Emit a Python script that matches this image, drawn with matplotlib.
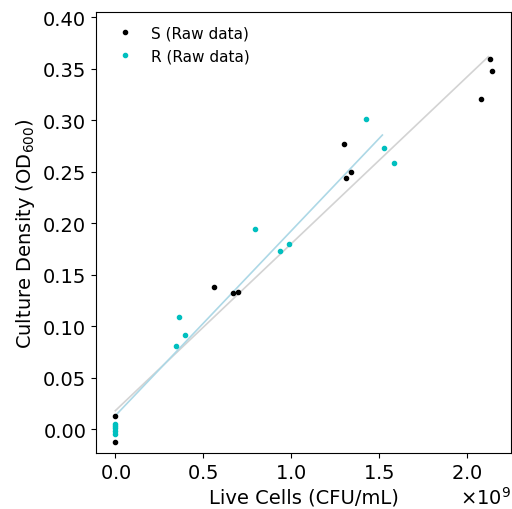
import numpy as np
import matplotlib
matplotlib.use('Agg')
import matplotlib.pyplot as plt

# live cells (CFU/mL) vs OD600
s_cells = [0.0, 0.0, 0.56e9, 0.672e9, 0.70e9, 1.30e9, 1.341e9, 1.313e9, 2.133e9, 2.144e9, 2.081e9]
s_od = [0.0123, -0.0129, 0.138, 0.132, 0.1327, 0.277, 0.250, 0.2437, 0.359, 0.348, 0.320]

r_cells = [0.0, 0.0, 0.0, 0.0, 0.0, 0.347e9, 0.364e9, 0.398e9, 0.797e9, 0.937e9, 0.989e9,
           1.427e9, 1.527e9, 1.588e9]
r_od = [0.005, 0.003, 0.001, -0.002, -0.005, 0.0803, 0.109, 0.0913, 0.194, 0.1728, 0.1796,
        0.301, 0.273, 0.2586]

# linear fits (intercept, slope per cell) and the x span they were drawn over
s_fit = (0.0178, 0.1619e-9)
s_fit_x = [0.0, 2.123e9]
r_fit = (0.0129, 0.1793e-9)
r_fit_x = [0.0, 1.52e9]

plt.close('all')
fig = plt.figure(figsize=(5.12, 5.10), dpi=100)
ax = fig.add_axes([0.1875, 0.1098, 0.8105, 0.8647])

xs = np.array(s_fit_x)
ax.plot(xs, s_fit[0] + s_fit[1]*xs, color='lightgray', lw=1.2, zorder=1)
xr = np.array(r_fit_x)
ax.plot(xr, r_fit[0] + r_fit[1]*xr, color='lightblue', lw=1.2, zorder=1)

ax.plot(s_cells, s_od, 'k.', ms=6, label='S (Raw data)', zorder=3)
ax.plot(r_cells, r_od, 'c.', ms=6, label='R (Raw data)', zorder=2)

ax.set_xlim(-0.11e9, 2.252e9)
ax.set_ylim(-0.0233, 0.4049)
ax.set_xticks(np.arange(0, 2.01e9, 0.5e9))
ax.set_yticks(np.arange(0, 0.401, 0.05))
ax.ticklabel_format(axis='x', style='sci', scilimits=(0, 0), useMathText=True)
ax.tick_params(labelsize=14)
ax.xaxis.get_offset_text().set_fontsize(14)

ax.set_xlabel('Live Cells (CFU/mL)', fontsize=14)
ax.set_ylabel('Culture Density (OD$_{600}$)', fontsize=14)
ax.legend(loc='upper left', frameon=False, fontsize=11, handletextpad=0.7)

plt.savefig('out.png', dpi=100)
